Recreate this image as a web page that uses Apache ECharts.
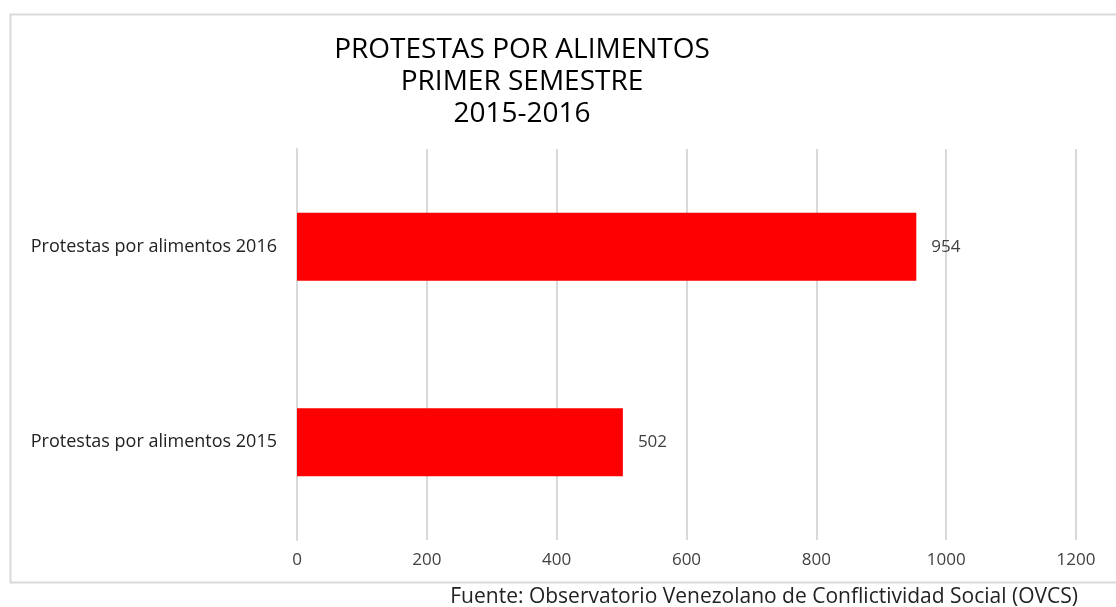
<!doctype html>
<html lang="es">
<head>
    <meta charset="UTF-8">
    <title>Protestas por alimentos</title>
    <script src="https://cdn.jsdelivr.net/npm/echarts@6/dist/echarts.min.js"></script>
    <style>
        html, body { margin: 0; padding: 0; background: #fff; }
        #main { width: 1116px; height: 607px; }
    </style>
</head>
<body>
<div id="main"></div>
<script>
    // datos
    var categorias = ['Protestas por alimentos 2015', 'Protestas por alimentos 2016'];
    var valores = [502, 954];
    var tituloLineas = ['PROTESTAS POR ALIMENTOS', 'PRIMER SEMESTRE', '2015-2016'];
    var fuente = 'Fuente: Observatorio Venezolano de Conflictividad Social (OVCS)';

    var fontTxt = '"Open Sans", "Noto Sans", sans-serif';
    var myChart = echarts.init(document.getElementById('main'));

    var option = {
        backgroundColor: '#fff',
        animation: false,
        title: {
            text: tituloLineas.join('\n'),
            left: 517,
            top: 29,
            textAlign: 'center',
            textStyle: {
                fontFamily: fontTxt,
                fontSize: 28,
                fontWeight: 'normal',
                color: '#000',
                lineHeight: 32
            }
        },
        graphic: [
            {
                type: 'rect',
                shape: { x: 10.5, y: 14.5, width: 1120, height: 568 },
                style: { fill: null, stroke: '#d9d9d9', lineWidth: 2 },
                silent: true
            },
            {
                type: 'text',
                right: 38,
                top: 587,
                style: {
                    text: fuente,
                    font: '21px ' + fontTxt,
                    fill: '#222'
                }
            }
        ],
        grid: {
            left: 297,
            right: 40,
            top: 149,
            bottom: 67
        },
        xAxis: {
            type: 'value',
            min: 0,
            max: 1200,
            interval: 200,
            axisLine: { show: false },
            axisTick: { show: false },
            splitLine: { lineStyle: { color: '#d9d9d9', width: 2 } },
            axisLabel: {
                margin: 12,
                fontFamily: fontTxt,
                fontSize: 17,
                color: '#404040',
                formatter: function (v) { return String(v); }
            }
        },
        yAxis: {
            type: 'category',
            data: categorias,
            axisLine: { show: true, lineStyle: { color: '#d9d9d9', width: 2 } },
            axisTick: { show: false },
            axisLabel: {
                margin: 20,
                fontFamily: fontTxt,
                fontSize: 18,
                color: '#222'
            }
        },
        series: [
            {
                type: 'bar',
                data: valores,
                barWidth: 68,
                itemStyle: { color: '#ff0000' },
                label: {
                    show: true,
                    position: 'right',
                    distance: 15,
                    fontFamily: fontTxt,
                    fontSize: 17,
                    color: '#404040'
                }
            }
        ]
    };
    myChart.setOption(option);
</script>
</body>
</html>
